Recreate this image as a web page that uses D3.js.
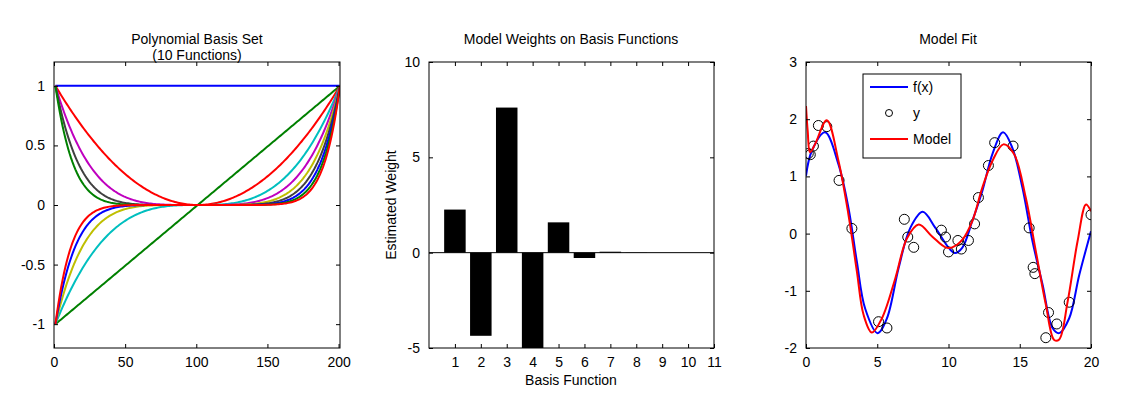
<!DOCTYPE html>
<html><head><meta charset="utf-8">
<script src="https://cdn.jsdelivr.net/npm/d3@7"></script>
<style>
body{margin:0;background:#fff;font-family:"Liberation Sans",Arial,sans-serif;}
text{font-size:14px;fill:#000;}
</style></head><body>
<svg id="c" width="1124" height="414"></svg>
<script>
// polynomial basis degrees and line colours
const degrees = [0,1,2,3,4,5,6,7,8,9];
const basisColors = ["#0000ff","#008000","#ff0000","#00bfbf","#bf00bf","#bfbf00","#404040","#0000ff","#008000","#ff0000"];

// weights
const basisIdx = [1,2,3,4,5,6,7,8,9,10];
const weights = [2.26,-4.36,7.61,-6.0,1.59,-0.28,0.05,0.01,0,0];

// true function f(x)
const fx = [0,0.40,1.34,2.28,2.98,3.57,4.15,5.02,5.68,6.50,7.32,8.19,9.08,10.02,10.45,10.96,11.67,12.37,13.08,13.83,14.48,15.19,15.89,16.60,17.30,17.77,18.47,19.18,20];
const fy = [1.01,1.44,1.77,1.21,0.45,-0.49,-1.31,-1.74,-1.48,-0.60,0.10,0.38,0.10,-0.25,-0.34,-0.25,0.22,0.74,1.39,1.77,1.50,0.80,-0.13,-0.89,-1.65,-1.74,-1.48,-0.72,0.04];

// noisy observations
const ox = [0.16,0.3,0.52,0.87,1.46,2.32,3.22,5.09,5.68,6.9,7.14,7.56,9.5,9.79,10.0,10.66,10.9,11.4,11.83,12.1,12.8,13.24,14.53,15.66,15.94,16.06,17.02,16.83,17.6,18.47,20];
const oy = [1.40,1.38,1.53,1.89,1.87,0.93,0.09,-1.54,-1.65,0.25,-0.06,-0.24,0.06,-0.06,-0.32,-0.12,-0.27,-0.12,0.17,0.63,1.19,1.59,1.53,0.10,-0.59,-0.70,-1.38,-1.82,-1.58,-1.20,0.33];

// model fit
const mx = [0,0.12,0.28,0.63,1.46,2.28,2.98,3.57,4.04,4.62,5.33,6.27,7.09,7.91,8.85,9.79,10.26,10.96,11.67,12.37,13.08,13.85,14.60,15.42,16.13,16.83,17.42,17.77,18.36,19.06,19.65,20];
const my = [2.23,1.79,1.42,1.56,1.98,1.27,0.33,-0.66,-1.42,-1.73,-1.48,-0.78,-0.08,0.16,-0.05,-0.24,-0.24,-0.11,0.22,0.80,1.27,1.56,1.39,0.63,-0.31,-1.24,-1.86,-1.85,-1.19,-0.13,0.51,0.39];

const svg = d3.select("#c");
const yTop = 62, yBot = 348;
const fmt = d => String(d);

function panel(x0, x1, xdom, ydom, xt, yt, id) {
  const x = d3.scaleLinear().domain(xdom).range([x0, x1]);
  const y = d3.scaleLinear().domain(ydom).range([yBot, yTop]);
  const g = svg.append("g");
  g.append("clipPath").attr("id", id).append("rect")
    .attr("x", x0).attr("y", yTop).attr("width", x1 - x0).attr("height", yBot - yTop);
  const plot = g.append("g").attr("clip-path", `url(#${id})`);
  const ax = g.append("g");
  ax.append("g").attr("transform", `translate(0,${yBot})`)
    .call(d3.axisBottom(x).tickValues(xt).tickFormat(fmt).tickSizeInner(-4).tickSizeOuter(0).tickPadding(9));
  ax.append("g").attr("transform", `translate(0,${yTop})`)
    .call(d3.axisTop(x).tickValues(xt).tickSizeInner(-4).tickSizeOuter(0).tickFormat(""));
  ax.append("g").attr("transform", `translate(${x0},0)`)
    .call(d3.axisLeft(y).tickValues(yt).tickFormat(fmt).tickSizeInner(-4).tickSizeOuter(0).tickPadding(9));
  ax.append("g").attr("transform", `translate(${x1},0)`)
    .call(d3.axisRight(y).tickValues(yt).tickSizeInner(-4).tickSizeOuter(0).tickFormat(""));
  ax.selectAll(".domain").remove();
  ax.selectAll("text").style("font-size", "14px").attr("font-family", "Liberation Sans, Arial");
  g.append("rect").attr("x", x0).attr("y", yTop).attr("width", x1 - x0).attr("height", yBot - yTop)
    .attr("fill", "none").attr("stroke", "#000");
  return {x, y, plot, g};
}

// panel 1
const p1 = panel(54, 340, [0, 201], [-1.2, 1.2], [0,50,100,150,200], [-1,-0.5,0,0.5,1], "c1");
const xs = d3.range(1, 202);
degrees.forEach((k, i) => {
  p1.plot.append("path")
    .datum(xs.map(v => [v, Math.pow((v - 101) / 100, k)]))
    .attr("fill", "none").attr("stroke", basisColors[i]).attr("stroke-width", 2)
    .attr("d", d3.line().x(d => p1.x(d[0])).y(d => p1.y(d[1])));
});
svg.append("text").attr("x", 197).attr("y", 44).attr("text-anchor", "middle").text("Polynomial Basis Set");
svg.append("text").attr("x", 197).attr("y", 60).attr("text-anchor", "middle").text("(10 Functions)");

// panel 2
const p2 = panel(429, 714, [0, 11], [-5, 10], d3.range(1, 12), [-5, 0, 5, 10], "c2");
p2.plot.selectAll("rect.bar").data(basisIdx).enter().append("rect")
  .attr("x", d => p2.x(d - 0.415))
  .attr("width", p2.x(0.83) - p2.x(0))
  .attr("y", (d, i) => p2.y(Math.max(0, weights[i])))
  .attr("height", (d, i) => Math.abs(p2.y(weights[i]) - p2.y(0)))
  .attr("fill", "#000");
p2.plot.append("line").attr("x1", 429).attr("x2", 714)
  .attr("y1", p2.y(0)).attr("y2", p2.y(0)).attr("stroke", "#000");
svg.append("text").attr("x", 571).attr("y", 44).attr("text-anchor", "middle").text("Model Weights on Basis Functions");
svg.append("text").attr("x", 571).attr("y", 385).attr("text-anchor", "middle").text("Basis Function");
svg.append("text").attr("transform", "translate(396,205) rotate(-90)").attr("text-anchor", "middle").text("Estimated Weight");

// panel 3
const p3 = panel(806, 1091, [0, 20], [-2, 3], [0,5,10,15,20], [-2,-1,0,1,2,3], "c3");
const line3 = d3.line().curve(d3.curveCatmullRom).x(d => p3.x(d[0])).y(d => p3.y(d[1]));
p3.plot.append("path").datum(fx.map((v, i) => [v, fy[i]]))
  .attr("fill", "none").attr("stroke", "#0000ff").attr("stroke-width", 2).attr("d", line3);
p3.plot.selectAll("circle.o").data(ox).enter().append("circle")
  .attr("cx", d => p3.x(d)).attr("cy", (d, i) => p3.y(oy[i])).attr("r", 5)
  .attr("fill", "none").attr("stroke", "#000");
p3.plot.append("path").datum(mx.map((v, i) => [v, my[i]]))
  .attr("fill", "none").attr("stroke", "#ff0000").attr("stroke-width", 2).attr("d", line3);
svg.append("text").attr("x", 948).attr("y", 44).attr("text-anchor", "middle").text("Model Fit");

// legend
const lg = svg.append("g");
lg.append("rect").attr("x", 863).attr("y", 74).attr("width", 98).attr("height", 84)
  .attr("fill", "#fff").attr("stroke", "#000");
const items = [["f(x)", "#0000ff", "line"], ["y", "#000", "circle"], ["Model", "#ff0000", "line"]];
items.forEach((it, i) => {
  const yy = 87 + i * 26;
  if (it[2] === "line") lg.append("line").attr("x1", 870).attr("x2", 908).attr("y1", yy).attr("y2", yy)
    .attr("stroke", it[1]).attr("stroke-width", 2);
  else lg.append("circle").attr("cx", 889).attr("cy", yy).attr("r", 3.5).attr("fill", "none").attr("stroke", "#000");
  lg.append("text").attr("x", 913).attr("y", yy + 5).text(it[0]);
});
</script></body></html>
